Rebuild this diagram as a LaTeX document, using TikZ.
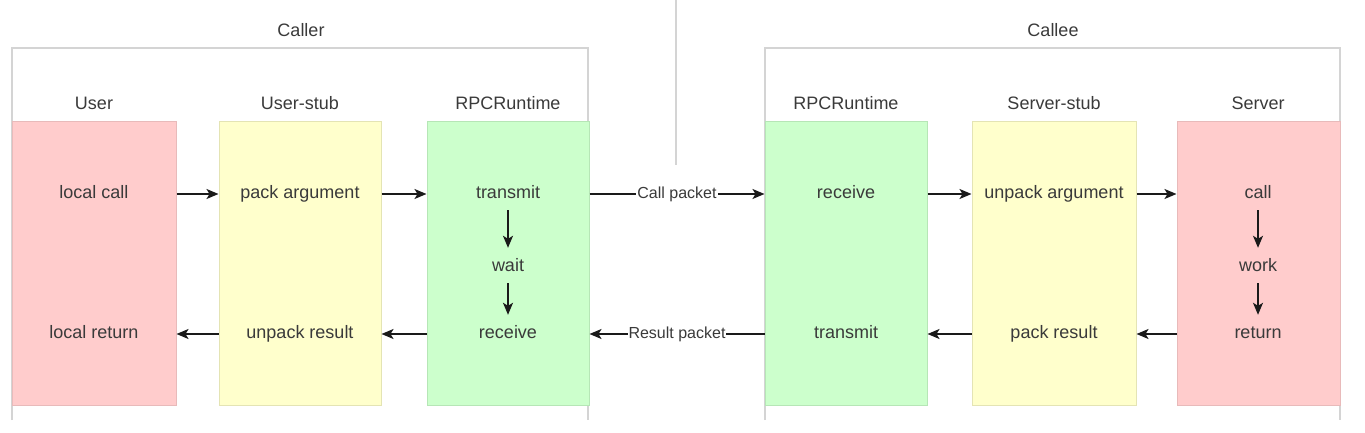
\documentclass[tikz,border=0pt]{standalone}
\usepackage{fontspec}
\setmainfont{Liberation Sans}
\usetikzlibrary{arrows.meta}
\definecolor{pinkf}{HTML}{FFCCCC}
\definecolor{pinkd}{HTML}{E8BABA}
\definecolor{yelf}{HTML}{FFFFCC}
\definecolor{yeld}{HTML}{E4E4B4}
\definecolor{grnf}{HTML}{CCFFCC}
\definecolor{grnd}{HTML}{B6E6B6}
\definecolor{frame}{HTML}{D4D4D4}
\definecolor{txtc}{HTML}{3A3A3A}
\definecolor{arrc}{HTML}{1A1A1A}
\tikzset{
  lanebox/.style={rectangle, line width=1pt, minimum height=283pt, inner sep=0pt},
  txt/.style={font=\fontsize{18}{21}\selectfont, text=txtc, inner sep=0pt,
              text height=12.5pt, text depth=3.5pt, minimum height=32pt},
  hdr/.style={font=\fontsize{18}{21}\selectfont, text=txtc, inner sep=0pt},
  elabel/.style={font=\fontsize{16}{18}\selectfont, text=txtc, fill=white, inner sep=1pt},
  arr/.style={draw=arrc, line width=1.6pt, -{Stealth[length=12pt,width=10pt,inset=3pt]}},
  vline/.style={draw=frame, line width=1.5pt}
}
\begin{document}
\begin{tikzpicture}[x=1pt,y=-1pt]
\useasboundingbox (0,0) rectangle (1365,433);

% containers
\coordinate (c1bl) at (12,420);
\coordinate (c1tl) at (12,48);
\coordinate (c1tr) at (588,48);
\coordinate (c1br) at (588,420);
\coordinate (c2bl) at (765,420);
\coordinate (c2tl) at (765,48);
\coordinate (c2tr) at (1340,48);
\coordinate (c2br) at (1340,420);
\draw[vline] (c1bl) -- (c1tl) -- (c1tr) -- (c1br);
\draw[vline] (c2bl) -- (c2tl) -- (c2tr) -- (c2br);
\coordinate (sept) at (676,0);
\coordinate (sepb) at (676,165);
\draw[draw=frame, line width=1.2pt] (sept) -- (sepb);

\node[hdr] (caller) at (301,30) {Caller};
\node[hdr] (callee) at (1053,30) {Callee};

% lane boxes
\node[lanebox, fill=pinkf, draw=pinkd, minimum width=164pt] (user) at (94,263.5) {};
\node[lanebox, fill=yelf, draw=yeld, minimum width=162pt] (ustub) at (300,263.5) {};
\node[lanebox, fill=grnf, draw=grnd, minimum width=162pt] (rpc1) at (508,263.5) {};
\node[lanebox, fill=grnf, draw=grnd, minimum width=162pt] (rpc2) at (846,263.5) {};
\node[lanebox, fill=yelf, draw=yeld, minimum width=164pt] (sstub) at (1054,263.5) {};
\node[lanebox, fill=pinkf, draw=pinkd, minimum width=163pt] (server) at (1258.5,263.5) {};

% lane headers
\node[hdr] (huser) at (94,103) {User};
\node[hdr] (hustub) at (300,103) {User-stub};
\node[hdr] (hrpc1) at (508,103) {RPCRuntime};
\node[hdr] (hrpc2) at (846,103) {RPCRuntime};
\node[hdr] (hsstub) at (1054,103) {Server-stub};
\node[hdr] (hserver) at (1258,103) {Server};

% texts
\node[txt] (lcall) at (94,194) {local call};
\node[txt] (lret) at (94,334) {local return};
\node[txt] (pack) at (300,194) {pack argument};
\node[txt] (unpr) at (300,334) {unpack result};
\node[txt] (tr1) at (508,194) {transmit};
\node[txt] (wait) at (508,267) {wait};
\node[txt] (rec1) at (508,334) {receive};
\node[txt] (rec2) at (846,194) {receive};
\node[txt] (tr2) at (846,334) {transmit};
\node[txt] (unpa) at (1054,194) {unpack argument};
\node[txt] (packr) at (1054,334) {pack result};
\node[txt] (call) at (1258,194) {call};
\node[txt] (work) at (1258,267) {work};
\node[txt] (ret) at (1258,334) {return};

% horizontal arrows, top row
\draw[arr] (user.east |- lcall) -- (ustub.west |- lcall);
\draw[arr] (ustub.east |- lcall) -- (rpc1.west |- lcall);
\draw[arr] (rpc1.east |- lcall) -- node[elabel] {Call packet} (rpc2.west |- lcall);
\draw[arr] (rpc2.east |- lcall) -- (sstub.west |- lcall);
\draw[arr] (sstub.east |- lcall) -- (server.west |- lcall);

% horizontal arrows, bottom row
\draw[arr] (server.west |- ret) -- (sstub.east |- ret);
\draw[arr] (sstub.west |- ret) -- (rpc2.east |- ret);
\draw[arr] (rpc2.west |- ret) -- node[elabel] {Result packet} (rpc1.east |- ret);
\draw[arr] (rpc1.west |- ret) -- (ustub.east |- ret);
\draw[arr] (ustub.west |- ret) -- (user.east |- ret);

% vertical arrows
\draw[arr, shorten >=3pt] (tr1.south) -- (wait.north);
\draw[arr, shorten >=3pt] (wait.south) -- (rec1.north);
\draw[arr, shorten >=3pt] (call.south) -- (work.north);
\draw[arr, shorten >=3pt] (work.south) -- (ret.north);
\end{tikzpicture}
\end{document}
